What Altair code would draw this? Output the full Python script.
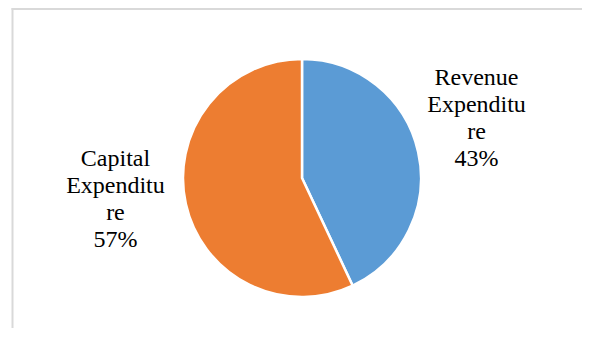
import altair as alt
import pandas as pd

categories = ["Revenue Expenditure", "Capital Expenditure"]
label_lines = [["Revenue", "Expenditu", "re"], ["Capital", "Expenditu", "re"]]
values = [43, 57]
colors = ["#5B9BD5", "#ED7D31"]

df = pd.DataFrame({
    "category": categories,
    "value": values,
    "order": list(range(len(categories))),
    "label": ["\n".join(l) + f"\n{v}%" for l, v in zip(label_lines, values)],
})

base = alt.Chart(df).encode(
    theta=alt.Theta("value:Q", stack=True),
    order=alt.Order("order:Q"),
)

pie = base.mark_arc(radius=119, stroke="white", strokeWidth=2.5).encode(
    color=alt.Color("category:N", scale=alt.Scale(domain=categories, range=colors), legend=None)
)

text = base.mark_text(
    radius=185, xOffset=-6, yOffset=-59.5, font="Liberation Serif",
    fontSize=24, lineBreak="\n", lineHeight=27, align="center", baseline="middle", color="#000000"
).encode(text="label:N")

frame = alt.Chart(df.head(1))
top_line = frame.mark_rule(stroke="#d9d9d9", strokeWidth=2).encode(
    x=alt.value(-10.5), x2=alt.value(800), y=alt.value(-19)
)
left_line = frame.mark_rule(stroke="#d9d9d9", strokeWidth=2).encode(
    x=alt.value(-9.5), y=alt.value(-20), y2=alt.value(800)
)

chart = alt.layer(top_line, left_line, pie, text).properties(
    width=560, height=300,
    padding={"left": 14, "top": 20, "right": 0, "bottom": 0},
    autosize=alt.AutoSizeParams(type="none"),
).configure(background="white", font="Liberation Serif").configure_view(stroke=None)

chart.save("out.html", embed_options={"renderer": "svg", "actions": False})
